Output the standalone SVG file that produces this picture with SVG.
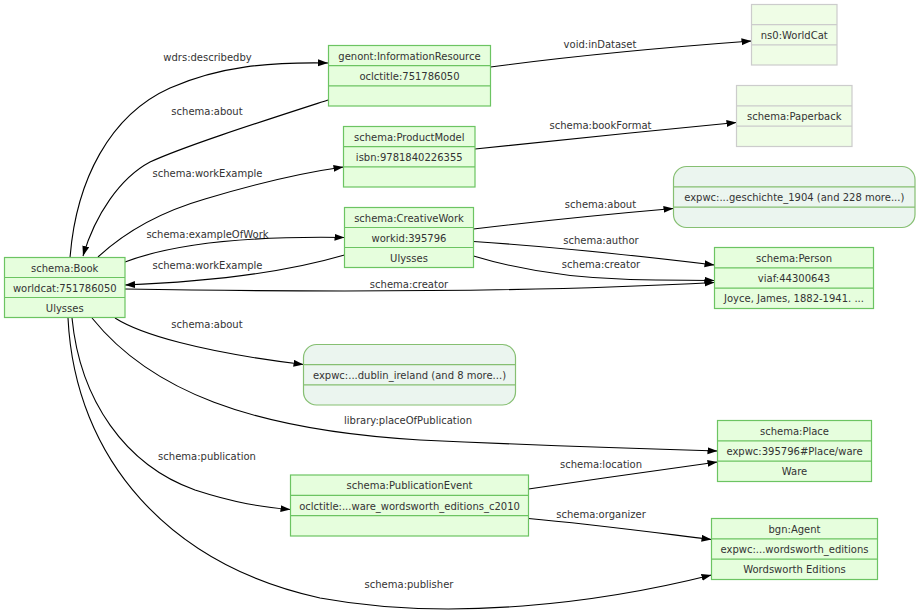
<svg xmlns="http://www.w3.org/2000/svg" width="919" height="616" viewBox="0 0 919 616">
<style>
text{font-family:"DejaVu Sans","Liberation Sans",sans-serif;font-size:10px;fill:#333;text-anchor:middle}
.g{fill:#e6fedd;stroke:#6cc462;stroke-width:1.2}
.gl{fill:none;stroke:#6cc462;stroke-width:1.2}
.x{fill:#effde6;stroke:#cccccc;stroke-width:1.2}
.xl{fill:none;stroke:#cccccc;stroke-width:1.2}
.r{fill:#ebf5ef;stroke:#86bf72;stroke-width:1.2}
.rl{fill:none;stroke:#86bf72;stroke-width:1.2}
.e{fill:none;stroke:#000;stroke-width:1.1;marker-end:url(#arr)}
</style>
<defs>
<marker id="arr" markerUnits="userSpaceOnUse" markerWidth="11" markerHeight="8" refX="10" refY="3.5" orient="auto">
<path d="M0,0 L10,3.5 L0,7 z" fill="#000"/>
</marker>
</defs>
<rect width="919" height="616" fill="#fff"/>
<g id="connectors">
<path class="e" d="M70,258 C76,180 110,115 170,88 C220,66 270,62 328,63"/>
<path class="e" d="M328,100 C260,122 185,146 150,162 C120,178 95,215 83,256"/>
<path class="e" d="M98,257 C125,232 160,212 205,199 C255,184 300,173 343.5,167"/>
<path class="e" d="M490.5,67 C580,55 670,47 751.5,41"/>
<path class="e" d="M475,149 C560,140 650,131 736.5,122.5"/>
<path class="e" d="M125,262 C175,243 250,236 344.5,237.5"/>
<path class="e" d="M344.5,255 C300,268 230,281 125,285"/>
<path class="e" d="M125,289 C300,292 520,293 714.5,282.5"/>
<path class="e" d="M473.5,229 C540,221 610,214 673.5,208.5"/>
<path class="e" d="M473.5,241.5 C560,247 640,256 714.5,265"/>
<path class="e" d="M473.5,256 C520,270 570,278 630,279.5 C670,280.5 695,280 714.5,280.5"/>
<path class="e" d="M115,318 C140,334 200,352 303.5,364.5"/>
<path class="e" d="M92,318 C150,390 250,430 420,440 C550,446 650,449 717.5,451"/>
<path class="e" d="M72,318 C80,400 125,465 195,490 C235,503 262,507 290.5,509.5"/>
<path class="e" d="M68,318 C75,460 170,565 320,598 C450,622 600,603 711.5,575"/>
<path class="e" d="M528.5,489 C590,480 660,470 717.5,462"/>
<path class="e" d="M528.5,518.5 C590,524 650,532 711.5,539.5"/>
<text x="207.5" y="61">wdrs:describedby</text>
<text x="207" y="114.5">schema:about</text>
<text x="207.5" y="177">schema:workExample</text>
<text x="600" y="47.5">void:inDataset</text>
<text x="600.5" y="128.5">schema:bookFormat</text>
<text x="600.5" y="207.5">schema:about</text>
<text x="601" y="243.5">schema:author</text>
<text x="601" y="268">schema:creator</text>
<text x="207.5" y="237.5">schema:exampleOfWork</text>
<text x="207.5" y="268.5">schema:workExample</text>
<text x="409" y="287.5">schema:creator</text>
<text x="207" y="328">schema:about</text>
<text x="408" y="423.5">library:placeOfPublication</text>
<text x="207" y="459.5">schema:publication</text>
<text x="409" y="588">schema:publisher</text>
<text x="601" y="467.5">schema:location</text>
<text x="601" y="517.5">schema:organizer</text>
</g>
<g id="book">
<rect class="g" x="4.5" y="257.5" width="120.5" height="60"/>
<path class="gl" d="M4.5,277.5 H125 M4.5,297.5 H125"/>
<text x="64.75" y="271.5">schema:Book</text>
<text x="64.75" y="291.5">worldcat:751786050</text>
<text x="64.75" y="311.5">Ulysses</text>
</g>
<g id="informationresource">
<rect class="g" x="328.5" y="45.5" width="162" height="60.5"/>
<path class="gl" d="M328.5,65.7 H490.5 M328.5,85.8 H490.5"/>
<text x="409.5" y="59.5">genont:InformationResource</text>
<text x="409.5" y="79.7">oclctitle:751786050</text>
</g>
<g id="productmodel">
<rect class="g" x="343.5" y="126.5" width="131.5" height="60.5"/>
<path class="gl" d="M343.5,146.7 H475 M343.5,166.8 H475"/>
<text x="409.25" y="140.5">schema:ProductModel</text>
<text x="409.25" y="160.7">isbn:9781840226355</text>
</g>
<g id="worldcat">
<rect class="x" x="751.5" y="4.5" width="85.5" height="60.5"/>
<path class="xl" d="M751.5,24.7 H837 M751.5,44.8 H837"/>
<text x="794.25" y="38.7">ns0:WorldCat</text>
</g>
<g id="paperback">
<rect class="x" x="736.5" y="85.5" width="115.5" height="61"/>
<path class="xl" d="M736.5,105.8 H852 M736.5,126.2 H852"/>
<text x="794.25" y="119.8">schema:Paperback</text>
</g>
<g id="geschichte">
<rect class="r" x="673.5" y="166.5" width="241.5" height="61" rx="13" ry="13"/>
<path class="rl" d="M673.5,186.8 H915 M673.5,207.2 H915"/>
<text x="794.25" y="200.8">expwc:...geschichte_1904 (and 228 more...)</text>
</g>
<g id="creativework">
<rect class="g" x="344.5" y="207.5" width="129" height="60"/>
<path class="gl" d="M344.5,227.5 H473.5 M344.5,247.5 H473.5"/>
<text x="409" y="221.5">schema:CreativeWork</text>
<text x="409" y="241.5">workid:395796</text>
<text x="409" y="261.5">Ulysses</text>
</g>
<g id="person">
<rect class="g" x="714.5" y="247.5" width="159" height="61"/>
<path class="gl" d="M714.5,267.8 H873.5 M714.5,288.2 H873.5"/>
<text x="794" y="261.6">schema:Person</text>
<text x="794" y="282">viaf:44300643</text>
<text x="794" y="302.4">Joyce, James, 1882-1941. ...</text>
</g>
<g id="dublin">
<rect class="r" x="303.5" y="344.5" width="212" height="60.5" rx="13" ry="13"/>
<path class="rl" d="M303.5,364.7 H515.5 M303.5,384.8 H515.5"/>
<text x="409.5" y="378.7">expwc:...dublin_ireland (and 8 more...)</text>
</g>
<g id="place">
<rect class="g" x="717.5" y="420.5" width="154" height="61"/>
<path class="gl" d="M717.5,440.8 H871.5 M717.5,461.2 H871.5"/>
<text x="794.5" y="434.6">schema:Place</text>
<text x="794.5" y="455">expwc:395796#Place/ware</text>
<text x="794.5" y="475.4">Ware</text>
</g>
<g id="publicationevent">
<rect class="g" x="290.5" y="475" width="238" height="61"/>
<path class="gl" d="M290.5,495.3 H528.5 M290.5,515.7 H528.5"/>
<text x="409.5" y="489.1">schema:PublicationEvent</text>
<text x="409.5" y="509.5">oclctitle:...ware_wordsworth_editions_c2010</text>
</g>
<g id="agent">
<rect class="g" x="711.5" y="518.5" width="166" height="61"/>
<path class="gl" d="M711.5,538.8 H877.5 M711.5,559.2 H877.5"/>
<text x="794.5" y="532.6">bgn:Agent</text>
<text x="794.5" y="553">expwc:...wordsworth_editions</text>
<text x="794.5" y="573.4">Wordsworth Editions</text>
</g>
</svg>
